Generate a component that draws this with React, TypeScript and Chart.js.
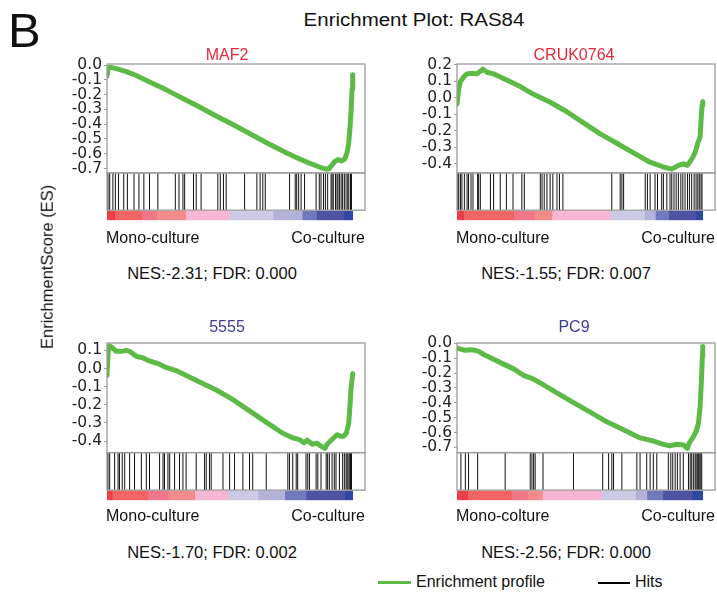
import React, { useEffect, useRef } from 'react';
import { Chart, registerables } from 'chart.js';

Chart.register(...registerables);

// ---------- data ----------
const maf2X = [0, 0.41, 1.08, 2.44, 4.47, 7.86, 11.92, 17.34, 24.12, 30.89, 37.67, 44.44, 51.22, 57.99, 64.77, 71.54, 76.96, 82.38, 86.45, 89.16, 90.51, 91.6, 92.68, 94.04, 95.39, 96.75, 97.7, 98.37, 98.92, 99.32, 99.73, 100];
const maf2Y = [-0.075, -0.028, -0.015, -0.019, -0.028, -0.045, -0.071, -0.114, -0.168, -0.226, -0.284, -0.345, -0.403, -0.463, -0.524, -0.582, -0.625, -0.664, -0.69, -0.705, -0.7, -0.675, -0.653, -0.64, -0.649, -0.636, -0.593, -0.528, -0.42, -0.313, -0.162, -0.065];
const maf2Hits = [0.4, 1.1, 2.4, 3.4, 4.7, 6.8, 8.3, 11.0, 13.0, 15.0, 17.3, 20.7, 27.8, 29.3, 30.9, 31.6, 35.2, 36.3, 38.3, 45.1, 46.1, 47.4, 48.5, 56.0, 61.0, 62.3, 63.4, 64.4, 74.3, 76.6, 77.2, 78.0, 79.0, 80.4, 85.1, 86.4, 87.1, 88.1, 88.9, 89.8, 91.2, 91.6, 92.1, 93.0, 93.6, 94.0, 94.6, 95.3, 95.9, 96.6, 97.3, 98.0, 98.4, 99.1, 99.5];
const maf2Edges = [0, 3.4, 14.4, 20.3, 32.2, 50.5, 67.8, 79.7, 85.5, 96.6, 100];
const maf2Ticks = [0, -0.1, -0.2, -0.3, -0.4, -0.5, -0.6, -0.7];

const crukX = [0, 0.68, 1.36, 2.71, 4.07, 6.1, 8.13, 9.49, 10.57, 12.2, 14.91, 17.62, 21.68, 25.75, 31.17, 37.94, 44.72, 51.49, 58.27, 65.04, 71.82, 78.59, 84.01, 87.4, 90.11, 92.14, 93.77, 95.53, 96.88, 97.97, 98.92, 99.32, 99.73, 100];
const crukY = [-0.036, 0.051, 0.098, 0.127, 0.146, 0.15, 0.146, 0.162, 0.175, 0.156, 0.146, 0.127, 0.098, 0.069, 0.022, -0.026, -0.084, -0.151, -0.218, -0.275, -0.333, -0.39, -0.419, -0.432, -0.409, -0.4, -0.409, -0.371, -0.333, -0.275, -0.237, -0.141, -0.045, -0.022];
const crukHits = [0.3, 0.7, 1.4, 2.0, 3.0, 4.1, 4.7, 5.7, 6.5, 8.4, 8.8, 9.5, 13.6, 14.9, 17.6, 20.1, 22.8, 26.4, 27.4, 33.9, 34.6, 35.5, 36.6, 37.9, 39.0, 40.7, 41.7, 43.1, 63.0, 66.4, 67.1, 67.8, 76.6, 77.5, 78.6, 80.6, 81.6, 83.3, 84.0, 85.4, 86.7, 87.4, 88.3, 89.2, 90.1, 91.1, 91.9, 92.8, 93.8, 94.6, 95.5, 96.5, 97.3, 98.0, 98.6, 99.3, 99.7];
const crukEdges = [0, 3.0, 23.3, 31.8, 38.9, 62.7, 76.6, 81.0, 86.4, 97.3, 100];
const crukTicks = [0.2, 0.1, 0, -0.1, -0.2, -0.3, -0.4];

const c5555X = [0, 0.54, 1.08, 2.43, 3.78, 5.81, 7.84, 9.19, 11.89, 14.59, 17.3, 21.35, 24.05, 28.11, 33.51, 38.92, 44.32, 51.08, 57.84, 64.59, 71.35, 75.41, 78.11, 80.14, 81.49, 83.51, 85.54, 86.89, 88.65, 89.59, 90.95, 92.3, 93.65, 95.0, 96.35, 97.43, 98.38, 98.92, 99.32, 100];
const c5555Y = [-0.038, 0.104, 0.125, 0.112, 0.095, 0.095, 0.1, 0.095, 0.068, 0.059, 0.042, 0.024, 0.006, -0.011, -0.047, -0.082, -0.117, -0.17, -0.232, -0.294, -0.356, -0.382, -0.391, -0.409, -0.395, -0.418, -0.412, -0.427, -0.441, -0.418, -0.4, -0.382, -0.365, -0.373, -0.373, -0.356, -0.303, -0.197, -0.108, -0.029];
const c5555Hits = [0, 0.4, 1.1, 3.1, 4.5, 5.1, 6.2, 7.2, 9.2, 11.2, 14.0, 16.0, 17.3, 21.4, 22.8, 23.4, 24.8, 25.5, 27.5, 29.5, 30.9, 32.2, 36.3, 39.7, 40.4, 41.7, 42.4, 47.2, 49.9, 51.9, 55.3, 58.0, 59.3, 64.8, 73.6, 74.3, 75.6, 77.0, 77.6, 81.0, 81.7, 82.4, 85.1, 85.8, 87.1, 89.2, 89.8, 90.5, 91.6, 92.5, 93.2, 94.6, 95.9, 96.6, 97.3, 97.7, 98.1, 98.6, 99.1, 99.5];
const c5555Edges = [0, 2.4, 16.7, 25.1, 36.0, 49.6, 61.7, 72.6, 81.3, 97.0, 100];
const c5555Ticks = [0.1, 0, -0.1, -0.2, -0.3, -0.4];

const pc9X = [0, 1.36, 3.39, 5.42, 7.45, 8.81, 10.84, 14.91, 18.97, 23.04, 27.1, 31.17, 35.23, 40.65, 47.43, 54.2, 60.98, 67.75, 74.53, 79.95, 84.01, 86.72, 89.43, 92.14, 93.77, 94.58, 95.93, 97.29, 98.24, 98.92, 99.46, 99.86, 100];
const pc9Y = [-0.032, -0.039, -0.047, -0.043, -0.047, -0.054, -0.075, -0.108, -0.14, -0.172, -0.216, -0.241, -0.28, -0.334, -0.399, -0.463, -0.528, -0.582, -0.636, -0.657, -0.679, -0.69, -0.679, -0.683, -0.707, -0.668, -0.636, -0.593, -0.539, -0.431, -0.259, -0.086, -0.022];
const pc9Hits = [1.6, 3.4, 4.7, 8.4, 19.6, 29.8, 30.5, 31.2, 31.8, 35.0, 47.4, 59.3, 61.7, 63.0, 63.7, 67.1, 73.2, 74.5, 77.2, 78.6, 79.9, 81.3, 86.0, 87.0, 87.8, 88.8, 89.7, 90.8, 92.1, 94.2, 94.9, 95.5, 96.2, 96.9, 97.3, 97.8, 98.2, 98.6, 99.2, 99.6];
const pc9Edges = [0, 4.7, 22.4, 29.1, 35.0, 58.9, 72.9, 77.5, 84.0, 95.9, 100];
const pc9Ticks = [0, -0.1, -0.2, -0.3, -0.4, -0.5, -0.6, -0.7];

const rankColors = ['#ee3f46', '#f06464', '#f07787', '#f48b8b', '#f6b7d2', '#cbcbe6', '#b5b2da', '#7278bc', '#5053a4', '#2f49a3'];

const titles = ['MAF2', 'CRUK0764', '5555', 'PC9'];
const nesLabels = ['NES:-2.31; FDR: 0.000', 'NES:-1.55; FDR: 0.007', 'NES:-1.70; FDR: 0.002', 'NES:-2.56; FDR: 0.000'];
const leftLabels = ['Mono-culture', 'Mono-culture', 'Mono-culture', 'Mono-colture'];
const rightLabel = 'Co-culture';

// ---------- styles ----------
const GREEN = '#5dba47';
const FONT = '"Liberation Sans", Arial, sans-serif';
const RED = '#e8283a';
const BLUE = '#3c3c9c';

type PanelCfg = {
  xs: number[]; ys: number[]; hits: number[]; edges: number[]; ticks: number[];
  yMin: number; yMax: number; left: number; top: number; w: number; h: number;
  pad: { left: number; right: number; top: number; bottom: number };
};

const panels: PanelCfg[] = [
  { xs: maf2X, ys: maf2Y, hits: maf2Hits, edges: maf2Edges, ticks: maf2Ticks, yMin: -0.73, yMax: 0.007, left: 50, top: 40, w: 320, h: 192, pad: { left: 0, right: 5, top: 24, bottom: 4 } },
  { xs: crukX, ys: crukY, hits: crukHits, edges: crukEdges, ticks: crukTicks, yMin: -0.455, yMax: 0.206, left: 400, top: 40, w: 317, h: 192, pad: { left: 0, right: 2, top: 24, bottom: 4 } },
  { xs: c5555X, ys: c5555Y, hits: c5555Hits, edges: c5555Edges, ticks: c5555Ticks, yMin: -0.464, yMax: 0.141, left: 50, top: 320, w: 320, h: 192, pad: { left: 0, right: 5, top: 23, bottom: 5 } },
  { xs: pc9X, ys: pc9Y, hits: pc9Hits, edges: pc9Edges, ticks: pc9Ticks, yMin: -0.735, yMax: 0.002, left: 400, top: 320, w: 317, h: 192, pad: { left: 0, right: 2, top: 23, bottom: 5 } },
];

const boxPlugin = {
  id: 'boxes',
  afterDatasetsDraw(chart: any) {
    const { ctx, chartArea } = chart;
    const y = chart.scales.y;
    const yh = chart.scales.yh;
    ctx.save();
    ctx.strokeStyle = '#9c9c9c';
    ctx.lineWidth = 1.3;
    ctx.strokeRect(chartArea.left, y.top, chartArea.right - chartArea.left, y.bottom - y.top);
    ctx.strokeRect(chartArea.left, yh.top, chartArea.right - chartArea.left, yh.bottom - yh.top);
    ctx.restore();
  },
};

function Panel({ p }: { p: PanelCfg }) {
  const ref = useRef<HTMLCanvasElement>(null);
  useEffect(() => {
    const canvas = ref.current;
    if (!canvas) return;
    const segs = p.edges.slice(0, -1).map((s, i) => ({ x: [s, p.edges[i + 1]], y: 0.5 }));
    const chart = new Chart(canvas, {
      type: 'line',
      data: {
        datasets: [
          {
            type: 'line',
            data: p.xs.map((x, i) => ({ x, y: p.ys[i] })),
            xAxisID: 'x', yAxisID: 'y',
            borderColor: GREEN, borderWidth: 5, pointRadius: 0, tension: 0, fill: false,
            borderJoinStyle: 'round', borderCapStyle: 'round', order: 0,
          } as any,
          {
            type: 'bar',
            data: p.hits.map((x) => ({ x, y: 1 })),
            xAxisID: 'x', yAxisID: 'yh',
            backgroundColor: '#111', barThickness: 1, grouped: false, borderWidth: 0,
            inflateAmount: 0, order: 1,
          } as any,
          {
            type: 'bar', indexAxis: 'y',
            data: segs,
            xAxisID: 'x', yAxisID: 'yc',
            backgroundColor: rankColors, barThickness: 9, grouped: false, borderWidth: 0, order: 2,
          } as any,
        ],
      },
      options: {
        animation: false,
        responsive: false,
        events: [],
        layout: { padding: p.pad },
        plugins: { legend: { display: false }, tooltip: { enabled: false }, title: { display: false } },
        scales: {
          x: { type: 'linear', min: 0, max: 105, display: false, offset: false },
          yc: {
            type: 'linear', position: 'left', stack: 'p', stackWeight: 11, min: 0, max: 1,
            ticks: { display: false }, grid: { display: false }, border: { display: false },
          },
          yh: {
            type: 'linear', position: 'left', stack: 'p', stackWeight: 39, min: 0, max: 1,
            ticks: { display: false }, grid: { display: false }, border: { display: false },
          },
          y: {
            type: 'linear', position: 'left', stack: 'p', stackWeight: 114, min: p.yMin, max: p.yMax,
            afterBuildTicks: (s: any) => { s.ticks = p.ticks.map((v) => ({ value: v })); },
            afterFit: (s: any) => { s.width = 57; },
            ticks: {
              autoSkip: false, padding: 2, color: '#222',
              font: { family: '"DejaVu Sans"', size: 15.5 },
              callback: (v: any) => Number(v).toFixed(1),
            },
            grid: { drawOnChartArea: false, drawTicks: true, tickLength: 3, color: '#9c9c9c', lineWidth: 1 },
            border: { display: false },
          },
        },
      } as any,
      plugins: [boxPlugin],
    });
    return () => chart.destroy();
  }, [p]);
  return (
    <canvas
      ref={ref}
      width={p.w}
      height={p.h}
      style={{ position: 'absolute', left: p.left, top: p.top, width: p.w, height: p.h }}
    />
  );
}

const centered = (x: number, y: number, size: number, extra: any = {}) => ({
  position: 'absolute' as const, left: x, top: y, fontSize: size, lineHeight: 1,
  whiteSpace: 'nowrap' as const, transform: 'translate(-50%,-50%)', ...extra,
});

export default function App() {
  const titlePos = [[227, 55], [574, 55], [227, 327], [574, 327]];
  const titleColors = [RED, RED, BLUE, BLUE];
  const monoPos = [[106, 238], [456, 238], [106, 516], [456, 516]];
  const coPos = [[365, 238], [715, 238], [365, 516], [715, 516]];
  const nesPos = [[212, 273], [566, 273], [212, 552], [566, 552]];
  return (
    <div style={{ position: 'fixed', left: 0, top: 0, width: 717, height: 592, background: '#fff', overflow: 'hidden', fontFamily: FONT, color: '#111' }}>
      {panels.map((p, i) => <Panel key={i} p={p} />)}
      <div style={{ position: 'absolute', left: 8, top: 6, fontSize: 49, lineHeight: 1, fontFamily: FONT }}>B</div>
      <div style={centered(414, 21, 17.5, { transform: 'translate(-50%,-50%) scaleX(1.17)' })}>Enrichment Plot: RAS84</div>
      <div style={centered(47, 267, 16.5, { transform: 'translate(-50%,-50%) rotate(-90deg)' })}>EnrichmentScore (ES)</div>
      {titles.map((t, i) => (
        <div key={'t' + i} style={centered(titlePos[i][0], titlePos[i][1], 16, { color: titleColors[i] })}>{t}</div>
      ))}
      {leftLabels.map((t, i) => (
        <div key={'m' + i} style={{ position: 'absolute', left: monoPos[i][0], top: monoPos[i][1], fontSize: 16, lineHeight: 1, whiteSpace: 'nowrap', transform: 'translate(0,-50%)' }}>{t}</div>
      ))}
      {coPos.map((c, i) => (
        <div key={'c' + i} style={{ position: 'absolute', right: 717 - c[0], top: c[1], fontSize: 16, lineHeight: 1, whiteSpace: 'nowrap', transform: 'translate(0,-50%)' }}>{rightLabel}</div>
      ))}
      {nesLabels.map((t, i) => (
        <div key={'n' + i} style={centered(nesPos[i][0], nesPos[i][1], 16.5)}>{t}</div>
      ))}
      <div style={{ position: 'absolute', left: 378, top: 581, width: 33, height: 2.5, background: GREEN }} />
      <div style={{ position: 'absolute', left: 416, top: 582, fontSize: 16, lineHeight: 1, whiteSpace: 'nowrap', transform: 'translate(0,-50%)' }}>Enrichment profile</div>
      <div style={{ position: 'absolute', left: 598, top: 582, width: 32, height: 2, background: '#000' }} />
      <div style={{ position: 'absolute', left: 635, top: 582, fontSize: 16, lineHeight: 1, whiteSpace: 'nowrap', transform: 'translate(0,-50%)' }}>Hits</div>
    </div>
  );
}
